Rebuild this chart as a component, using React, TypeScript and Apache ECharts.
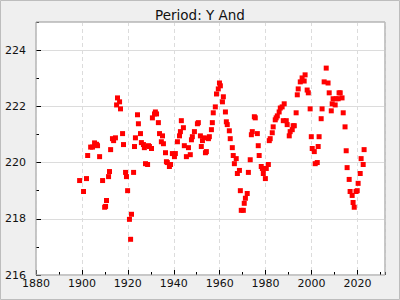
import React, { useEffect, useRef } from 'react';
import * as echarts from 'echarts';

const title = 'Period: Y And';

const years = [
  1899.0, 1900.7, 1902.0, 1902.5, 1903.8, 1904.6, 1905.5, 1906.4, 1906.8, 1907.7,
  1909.0, 1909.9, 1910.3, 1910.7, 1911.6, 1912.0, 1912.5, 1913.3, 1913.8, 1914.6,
  1915.1, 1915.5, 1916.4, 1916.8, 1917.7, 1918.1, 1919.0, 1919.4, 1919.9, 1920.7,
  1921.2, 1921.6, 1922.5, 1922.9, 1923.3, 1924.2, 1924.6, 1925.5, 1925.9, 1926.8,
  1927.2, 1927.7, 1928.6, 1929.0, 1929.4, 1930.3, 1930.7, 1931.6, 1932.0, 1932.5,
  1933.3, 1933.8, 1934.6, 1935.1, 1935.5, 1936.4, 1936.8, 1937.2, 1938.1, 1938.6,
  1939.4, 1940.3, 1940.7, 1941.6, 1942.5, 1942.9, 1943.3, 1944.2, 1944.6, 1945.5,
  1946.4, 1947.2, 1947.7, 1948.1, 1949.0, 1950.3, 1950.7, 1951.6, 1952.0, 1952.5,
  1953.3, 1953.8, 1954.2, 1955.1, 1955.5, 1956.4, 1956.8, 1957.2, 1958.1, 1958.6,
  1959.4, 1959.9, 1960.3, 1961.2, 1961.6, 1962.5, 1962.9, 1963.3, 1964.2, 1964.6,
  1965.5, 1965.9, 1966.4, 1967.2, 1967.7, 1968.6, 1969.0, 1969.4, 1970.3, 1970.7,
  1971.2, 1972.0, 1972.5, 1973.3, 1973.8, 1974.2, 1975.1, 1975.5, 1976.4, 1976.8,
  1977.2, 1978.1, 1978.6, 1979.0, 1979.9, 1980.3, 1981.2, 1981.6, 1982.0, 1982.9,
  1983.3, 1984.2, 1984.6, 1985.1, 1985.9, 1986.4, 1987.2, 1987.7, 1988.1, 1989.0,
  1989.4, 1990.3, 1990.7, 1991.6, 1992.0, 1992.5, 1993.3, 1993.8, 1994.2, 1995.1,
  1995.9, 1996.8, 1997.2, 1998.1, 1998.6, 1999.4, 1999.9, 2000.3, 2001.2, 2001.6,
  2002.5, 2002.9, 2003.3, 2004.2, 2004.6, 2005.5, 2006.4, 2007.2, 2007.7, 2008.6,
  2009.0, 2009.4, 2010.3, 2010.7, 2011.6, 2012.0, 2012.5, 2013.3, 2013.8, 2014.6,
  2015.1, 2015.5, 2016.4, 2016.8, 2017.7, 2018.1, 2018.6, 2019.4, 2019.9, 2020.3,
  2021.2, 2021.6, 2022.5, 2022.9,
];

const periods = [
  219.36, 218.97, 219.43, 220.25, 220.55, 220.55, 220.70, 220.65, 220.60, 220.21,
  219.36, 218.41, 218.44, 218.65, 219.50, 219.68, 220.46, 220.85, 220.78, 220.88,
  222.05, 222.30, 222.16, 221.91, 221.03, 220.64, 219.65, 219.50, 219.00, 217.98,
  217.27, 218.16, 219.65, 220.57, 220.88, 221.70, 221.38, 221.03, 220.71, 220.64,
  220.53, 219.96, 219.93, 220.60, 220.57, 220.50, 221.59, 221.73, 221.80, 221.73,
  221.42, 221.03, 220.74, 220.95, 220.67, 220.35, 220.03, 220.00, 219.86, 219.93,
  220.32, 220.21, 220.32, 220.74, 220.95, 221.10, 221.49, 221.24, 220.60, 220.21,
  220.53, 220.28, 220.81, 220.92, 221.10, 221.38, 221.42, 220.95, 220.57, 220.78,
  220.88, 220.35, 220.39, 220.85, 220.92, 221.17, 221.42, 221.77, 221.98, 222.44,
  222.62, 222.83, 222.73, 222.16, 222.34, 221.80, 221.45, 221.35, 221.13, 220.85,
  220.53, 220.25, 219.96, 220.14, 219.61, 219.72, 219.00, 218.30, 218.30, 218.55,
  218.73, 218.90, 219.65, 220.10, 220.99, 221.10, 221.63, 221.59, 221.03, 220.60,
  220.25, 219.86, 219.79, 219.61, 219.43, 219.79, 219.93, 220.78, 220.85, 221.06,
  221.27, 221.52, 221.59, 221.66, 221.80, 221.94, 221.98, 221.49, 222.09, 221.49,
  221.35, 220.95, 221.10, 221.17, 221.31, 221.31, 221.77, 222.41, 222.62, 222.87,
  223.01, 222.90, 223.12, 222.58, 222.48, 221.91, 220.92, 220.50, 220.39, 219.96,
  220.00, 220.57, 220.92, 221.56, 221.91, 222.87, 223.36, 222.83, 222.48, 221.84,
  222.09, 222.27, 222.05, 222.27, 222.27, 222.48, 222.48, 222.30, 221.77, 221.27,
  220.42, 219.82, 219.40, 218.97, 218.83, 218.58, 218.41, 218.97, 219.00, 219.26,
  219.61, 220.14, 219.93, 220.46,
];

const xMin = 1880;
const xMax = 2032;
const xMajor = 20;
const xMinor = 10;
const yMin = 216;
const yMax = 225;
const yMajor = 2;
const yMinor = 1;

const GRID = { left: 36, top: 22, right: 15, bottom: 25 };

export default function App() {
  const ref = useRef<HTMLDivElement>(null);
  useEffect(() => {
    document.body.style.margin = '0';
    const chart = echarts.init(ref.current!, null, { renderer: 'svg' });
    const font = 'DejaVu Sans';
    const labelStyle = { fontFamily: font, fontSize: 11, color: '#111' };
    chart.setOption({
      animation: false,
      backgroundColor: '#efefef',
      title: {
        text: title,
        left: 'center',
        top: 3,
        textStyle: { fontFamily: font, fontSize: 13.5, fontWeight: 'normal', color: '#111' },
      },
      grid: {
        ...GRID,
        show: true,
        backgroundColor: '#ffffff',
        borderColor: '#b4b4b4',
        borderWidth: 1,
        containLabel: false,
      },
      xAxis: [
        {
          type: 'value', min: xMin, max: xMax, interval: xMajor, position: 'bottom', offset: 0,
          axisLine: { show: false },
          axisTick: { show: true, inside: true, length: 5, lineStyle: { color: '#000' } },
          axisLabel: { ...labelStyle, margin: 3, showMaxLabel: false, formatter: (v: number) => String(v) },
          splitLine: { show: true, lineStyle: { color: '#dcdcdc', type: [4, 3] } },
        },
        {
          type: 'value', min: xMin, max: xMax, interval: xMinor, position: 'bottom', offset: 0,
          axisLine: { show: false },
          axisTick: { show: true, inside: true, length: 3, lineStyle: { color: '#000' } },
          axisLabel: { show: false },
          splitLine: { show: false },
        },
      ],
      yAxis: [
        {
          type: 'value', min: yMin, max: yMax, interval: yMajor, position: 'left', offset: 0,
          axisLine: { show: false },
          axisTick: { show: true, inside: true, length: 5, lineStyle: { color: '#000' } },
          axisLabel: { ...labelStyle, margin: 10, showMaxLabel: false, formatter: (v: number) => String(v) },
          splitLine: { show: true, lineStyle: { color: '#dcdcdc', type: 'solid' } },
        },
        {
          type: 'value', min: yMin, max: yMax, interval: yMinor, position: 'left', offset: 0,
          axisLine: { show: false },
          axisTick: { show: true, inside: true, length: 3, lineStyle: { color: '#000' } },
          axisLabel: { show: false },
          splitLine: { show: false },
        },
      ],
      graphic: [
        {
          type: 'rect',
          z: 100,
          silent: true,
          shape: { x: GRID.left, y: GRID.top, width: 400 - GRID.left - GRID.right, height: 300 - GRID.top - GRID.bottom },
          style: { fill: 'none', stroke: '#b4b4b4', lineWidth: 1 },
        },
        {
          type: 'rect',
          z: 100,
          silent: true,
          shape: { x: 0.5, y: 0.5, width: 399, height: 299 },
          style: { fill: 'none', stroke: '#bdbdbd', lineWidth: 1 },
        },
      ],
      series: [
        {
          type: 'scatter',
          xAxisIndex: 0,
          yAxisIndex: 0,
          symbol: 'rect',
          symbolSize: 5,
          itemStyle: { color: '#ff0000', opacity: 1 },
          data: years.map((y, i) => [y, periods[i]]),
        },
      ],
    });
    return () => chart.dispose();
  }, []);
  return <div ref={ref} style={{ width: 400, height: 300 }} />;
}
